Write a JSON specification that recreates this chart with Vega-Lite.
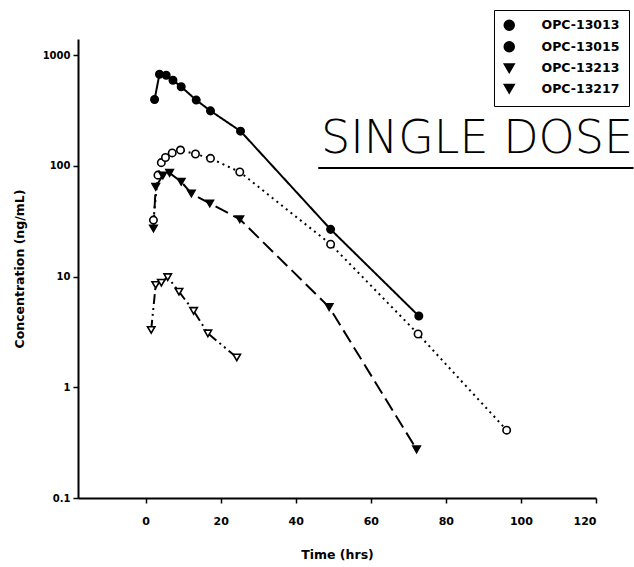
{
  "$schema": "https://vega.github.io/schema/vega-lite/v6.json",
  "autosize": {"type": "none"},
  "padding": {"left": 78, "top": 39, "right": 38, "bottom": 69},
  "width": 518,
  "height": 459,
  "background": "white",
  "config": {"view": {"stroke": null}, "font": "DejaVu Sans"},
  "datasets": {
    "pk": [
      {"series": "OPC-13013", "time": 2.4, "conc": 398},
      {"series": "OPC-13013", "time": 3.7, "conc": 673},
      {"series": "OPC-13013", "time": 5.5, "conc": 659},
      {"series": "OPC-13013", "time": 7.3, "conc": 594},
      {"series": "OPC-13013", "time": 9.5, "conc": 518},
      {"series": "OPC-13013", "time": 13.5, "conc": 393},
      {"series": "OPC-13013", "time": 17.3, "conc": 314},
      {"series": "OPC-13013", "time": 25.3, "conc": 206},
      {"series": "OPC-13013", "time": 49.3, "conc": 26.7},
      {"series": "OPC-13013", "time": 72.8, "conc": 4.4},
      {"series": "OPC-13015", "time": 2.1, "conc": 32.4},
      {"series": "OPC-13015", "time": 3.3, "conc": 82.5},
      {"series": "OPC-13015", "time": 4.2, "conc": 107},
      {"series": "OPC-13015", "time": 5.3, "conc": 119},
      {"series": "OPC-13015", "time": 7.1, "conc": 131},
      {"series": "OPC-13015", "time": 9.3, "conc": 139},
      {"series": "OPC-13015", "time": 13.3, "conc": 128},
      {"series": "OPC-13015", "time": 17.3, "conc": 117},
      {"series": "OPC-13015", "time": 25.1, "conc": 88},
      {"series": "OPC-13015", "time": 49.3, "conc": 19.6},
      {"series": "OPC-13015", "time": 72.6, "conc": 3.03},
      {"series": "OPC-13015", "time": 96.2, "conc": 0.41},
      {"series": "OPC-13213", "time": 2.1, "conc": 27.2},
      {"series": "OPC-13213", "time": 2.7, "conc": 64.7},
      {"series": "OPC-13213", "time": 4.6, "conc": 82},
      {"series": "OPC-13213", "time": 6.4, "conc": 86.5},
      {"series": "OPC-13213", "time": 9.5, "conc": 71.8},
      {"series": "OPC-13213", "time": 12.2, "conc": 56.4},
      {"series": "OPC-13213", "time": 17.1, "conc": 45.8},
      {"series": "OPC-13213", "time": 25.1, "conc": 33},
      {"series": "OPC-13213", "time": 48.9, "conc": 5.3},
      {"series": "OPC-13213", "time": 72.2, "conc": 0.275},
      {"series": "OPC-13217", "time": 1.5, "conc": 3.3},
      {"series": "OPC-13217", "time": 2.7, "conc": 8.4},
      {"series": "OPC-13217", "time": 4.2, "conc": 8.8},
      {"series": "OPC-13217", "time": 5.9, "conc": 9.9},
      {"series": "OPC-13217", "time": 8.9, "conc": 7.3},
      {"series": "OPC-13217", "time": 12.8, "conc": 4.9},
      {"series": "OPC-13217", "time": 16.6, "conc": 3.07},
      {"series": "OPC-13217", "time": 24.3, "conc": 1.86}
    ]
  },
  "layer": [
    {
      "data": {"name": "pk"},
      "mark": {"type": "line", "color": "black", "strokeWidth": 2},
      "encoding": {
        "x": {
          "field": "time",
          "type": "quantitative",
          "scale": {"domain": [-18, 120], "nice": false, "zero": false},
          "axis": {
            "values": [0, 20, 40, 60, 80, 100, 120],
            "grid": false,
            "domainColor": "black",
            "domainWidth": 2,
            "tickColor": "black",
            "tickWidth": 1.5,
            "tickSize": 5,
            "labelFont": "DejaVu Sans",
            "labelFontWeight": "bold",
            "labelFontSize": 11,
            "labelColor": "black",
            "labelPadding": 12,
            "title": "Time (hrs)",
            "titleFont": "DejaVu Sans",
            "titleFontWeight": "bold",
            "titleFontSize": 12.5,
            "titleColor": "black",
            "titlePadding": 22
          }
        },
        "y": {
          "field": "conc",
          "type": "quantitative",
          "scale": {"type": "log", "domain": [0.1, 1400], "nice": false},
          "axis": {
            "values": [0.1, 1, 10, 100, 1000],
            "format": "~g",
            "grid": false,
            "domainColor": "black",
            "domainWidth": 2,
            "tickColor": "black",
            "tickWidth": 1.5,
            "tickSize": 5,
            "labelFont": "DejaVu Sans",
            "labelFontWeight": "bold",
            "labelFontSize": 10,
            "labelColor": "black",
            "labelPadding": 3,
            "title": "Concentration (ng/mL)",
            "titleFont": "DejaVu Sans",
            "titleFontWeight": "bold",
            "titleFontSize": 12.5,
            "titleColor": "black",
            "titlePadding": 16
          }
        },
        "strokeDash": {
          "field": "series",
          "type": "nominal",
          "scale": {
            "range": [[1, 0], [2, 4], [14, 6], [10, 4, 2, 4, 2, 4]]
          },
          "legend": null
        },
        "order": {"field": "time", "type": "quantitative"}
      }
    },
    {
      "data": {"name": "pk"},
      "mark": {"type": "point", "filled": true, "stroke": "black", "strokeWidth": 1.6, "size": 55, "opacity": 1},
      "encoding": {
        "x": {"field": "time", "type": "quantitative"},
        "y": {"field": "conc", "type": "quantitative"},
        "shape": {
          "field": "series",
          "type": "nominal",
          "scale": {
            "domain": ["OPC-13013", "OPC-13015", "OPC-13213", "OPC-13217"],
            "range": ["circle", "circle", "triangle-down", "triangle-down"]
          },
          "legend": {
            "title": null,
            "orient": "none",
            "legendX": 416,
            "legendY": -29,
            "strokeColor": "black",
            "fillColor": "white",
            "padding": 9,
            "symbolSize": 100,
            "labelOffset": 26,
            "labelFont": "DejaVu Sans",
            "labelFontWeight": "bold",
            "labelFontSize": 12.5,
            "labelColor": "black",
            "rowPadding": 4.5,
            "encode": {
              "symbols": {
                "shape": {"signal": "datum.value == 'OPC-13013' ? 'M-1,0L5,0M1.2,0L1.43,-0.57L2,-0.8L2.57,-0.57L2.8,0L2.57,0.57L2,0.8L1.43,0.57Z' : datum.value == 'OPC-13015' ? 'M-1,0L-0.7,0M-0.2,0L0.1,0M0.6,0L0.9,0M1.25,0L1.47,-0.53L2,-0.75L2.53,-0.53L2.75,0L2.53,0.53L2,0.75L1.47,0.53ZM3.1,0L3.4,0M3.9,0L4.2,0M4.7,0L5,0' : datum.value == 'OPC-13213' ? 'M-1,0L5,0M1.25,-0.6L2.75,-0.6L2,0.75Z' : 'M-1,0L1.2,0M1.25,-0.6L2.75,-0.6L2,0.75ZM3,0L3.3,0M3.8,0L4.1,0M4.6,0L4.9,0'"},
                "fill": {"signal": "datum.value == 'OPC-13015' || datum.value == 'OPC-13217' ? 'white' : 'black'"},
                "stroke": {"value": "black"},
                "strokeWidth": {"value": 1.6},
                "opacity": {"value": 1}
              }
            }
          }
        },
        "fill": {
          "field": "series",
          "type": "nominal",
          "scale": {
            "range": ["black", "white", "black", "white"]
          },
          "legend": null
        }
      }
    },
    {
      "data": {"values": [{"label": "SINGLE DOSE"}]},
      "mark": {"type": "text", "font": "DejaVu Sans", "fontWeight": 200, "fontSize": 46, "align": "center", "baseline": "middle", "color": "black"},
      "encoding": {
        "text": {"field": "label", "type": "nominal"},
        "x": {"datum": 88.3, "type": "quantitative"},
        "y": {"datum": 174, "type": "quantitative"}
      }
    },
    {
      "data": {"values": [{"label": "underline"}]},
      "mark": {"type": "rule", "strokeWidth": 2, "color": "black"},
      "encoding": {
        "x": {"datum": 46, "type": "quantitative"},
        "x2": {"datum": 130},
        "y": {"datum": 95.5, "type": "quantitative"}
      }
    }
  ]
}
